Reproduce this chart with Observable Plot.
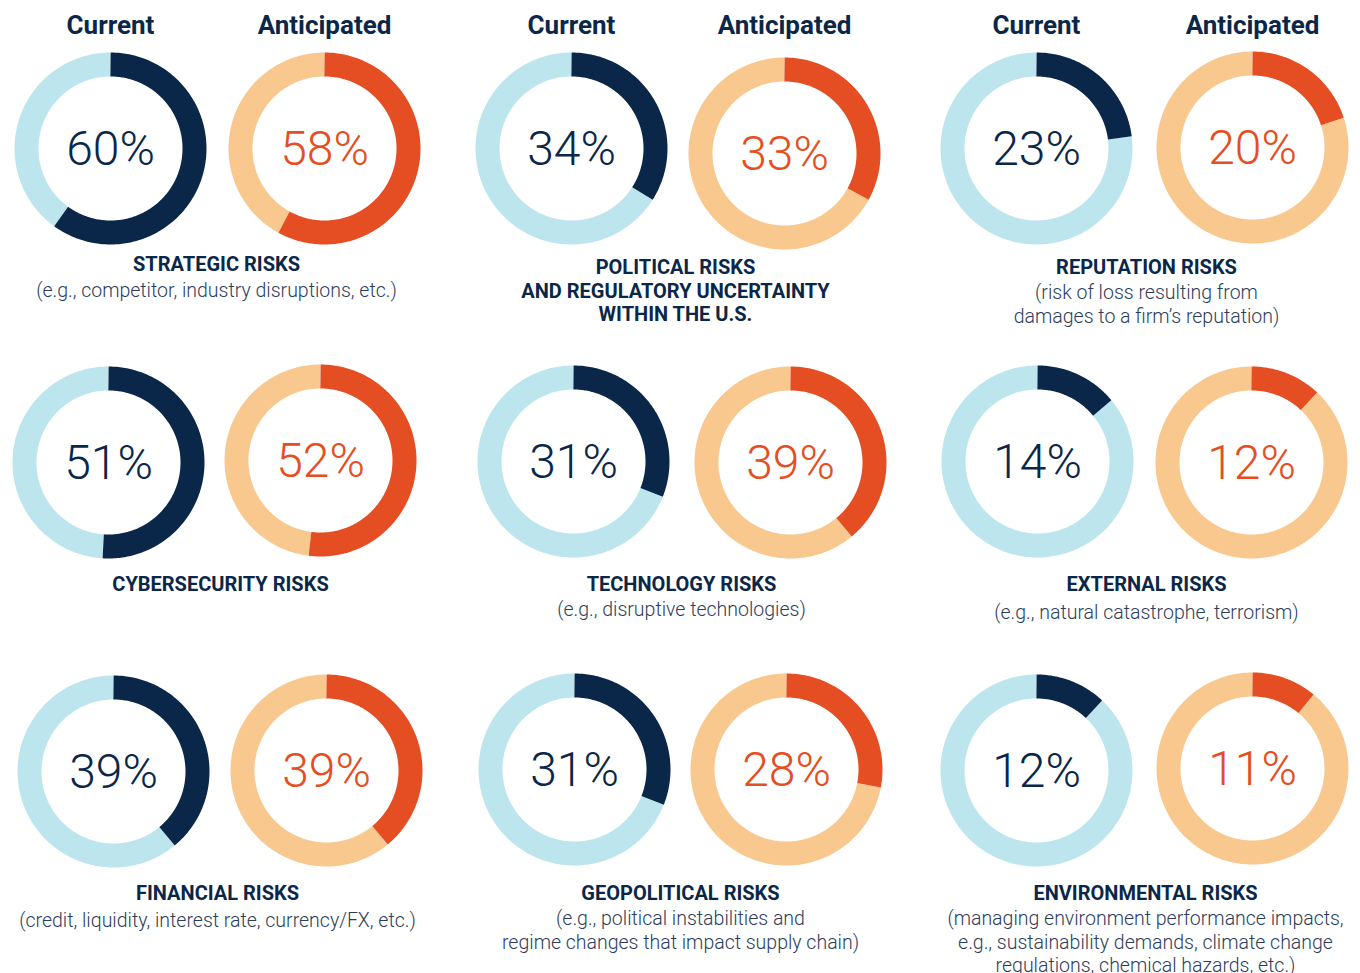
<!DOCTYPE html>
<html>
<head>
<meta charset="utf-8">
<script src="https://cdn.jsdelivr.net/npm/d3@7"></script>
<script src="https://cdn.jsdelivr.net/npm/@observablehq/plot@0.6"></script>
<style>
  html, body { margin: 0; padding: 0; background: #ffffff; }
  #chart svg { display: block; }
</style>
</head>
<body>
<div id="chart"></div>
<script>
// ---- Data ----
const seriesLabels = ["Current", "Anticipated"];
const categories = [
  "STRATEGIC RISKS",
  "POLITICAL RISKS\nAND REGULATORY UNCERTAINTY\nWITHIN THE U.S.",
  "REPUTATION RISKS",
  "CYBERSECURITY RISKS",
  "TECHNOLOGY RISKS",
  "EXTERNAL RISKS",
  "FINANCIAL RISKS",
  "GEOPOLITICAL RISKS",
  "ENVIRONMENTAL RISKS"
];
const descriptions = [
  "(e.g., competitor, industry disruptions, etc.)",
  "",
  "(risk of loss resulting from\ndamages to a firm’s reputation)",
  "",
  "(e.g., disruptive technologies)",
  "(e.g., natural catastrophe, terrorism)",
  "(credit, liquidity, interest rate, currency/FX, etc.)",
  "(e.g., political instabilities and\nregime changes that impact supply chain)",
  "(managing environment performance impacts,\ne.g., sustainability demands, climate change\nregulations, chemical hazards, etc.)"
];
const currentValues = [60, 34, 23, 51, 31, 14, 39, 31, 12];
const anticipatedValues = [58, 33, 20, 52, 39, 12, 39, 28, 11];

// ---- Layout (pixel positions of each donut and label block) ----
const currentCenters = [[110,148],[571,148],[1036,148],[108,462],[573,461],[1037,461],[113,771],[574,769],[1036,770]];
const anticipatedCenters = [[324,148],[784,153],[1252,147],[320,460],[790,462],[1251,462],[326,770],[786,769],[1252,768]];
const titleX = [216, 675, 1146, 220, 681, 1146, 217, 680, 1145];
const titleTop = [254, 257, 257, 574, 574, 574, 883, 883, 883];
const descTop = [279, 0, 281, 0, 598, 601, 909, 907, 907];

const R = 84, RING = 24;
const navy = "#0a2749", lightBlue = "#bde5ee", red = "#e44e22", peach = "#f8c88f";
const descColor = "#2c3d5b";

// ---- Build arc paths from the values ----
function arc(id, cx, cy, f0, f1) {
  const n = Math.max(2, Math.ceil((f1 - f0) * 360));
  const pts = [];
  for (let k = 0; k <= n; k++) {
    const t = (f0 + (f1 - f0) * k / n) * 2 * Math.PI;
    pts.push({id, x: cx + R * Math.sin(t), y: cy - R * Math.cos(t)});
  }
  return pts;
}
const curFill = [], curRest = [], antFill = [], antRest = [];
categories.forEach((c, i) => {
  const [cx, cy] = currentCenters[i];
  const [ax, ay] = anticipatedCenters[i];
  const v = currentValues[i] / 100, w = anticipatedValues[i] / 100;
  curRest.push(...arc("cr" + i, cx, cy, v, 1));
  curFill.push(...arc("cf" + i, cx, cy, 0, v));
  antRest.push(...arc("ar" + i, ax, ay, w, 1));
  antFill.push(...arc("af" + i, ax, ay, 0, w));
});

const pctRows = categories.flatMap((c, i) => [
  {x: currentCenters[i][0], y: currentCenters[i][1], text: currentValues[i] + "%", s: "cur"},
  {x: anticipatedCenters[i][0], y: anticipatedCenters[i][1], text: anticipatedValues[i] + "%", s: "ant"}
]);
const headerRows = [0, 1, 2].flatMap(i => [
  {x: currentCenters[i][0], text: seriesLabels[0]},
  {x: anticipatedCenters[i][0], text: seriesLabels[1]}
]);
const titleRows = categories.map((c, i) => ({x: titleX[i], y: titleTop[i], text: c}));
const descRows = descriptions.map((d, i) => ({x: titleX[i], y: descTop[i], text: d})).filter(d => d.text);

const lineOpts = {x: "x", y: "y", z: "id", strokeWidth: RING, strokeLinecap: "butt", strokeLinejoin: "round", curve: "linear"};
const font = "Roboto, 'Open Sans', sans-serif";

const chart = Plot.plot({
  width: 1360,
  height: 973,
  margin: 0,
  x: {domain: [0, 1360], range: [0, 1360], axis: null},
  y: {domain: [0, 973], range: [0, 973], axis: null},
  style: {background: "#ffffff", fontFamily: font},
  marks: [
    Plot.line(curRest, {...lineOpts, stroke: lightBlue}),
    Plot.line(curFill, {...lineOpts, stroke: navy}),
    Plot.line(antRest, {...lineOpts, stroke: peach}),
    Plot.line(antFill, {...lineOpts, stroke: red}),
    Plot.text(pctRows, {x: "x", y: "y", text: "text", dy: 1, fontSize: 48, fontWeight: 300,
      fill: d => d.s === "cur" ? navy : red, textAnchor: "middle", lineAnchor: "middle", fontFamily: font}),
    Plot.text(headerRows, {x: "x", y: () => 25, text: "text", fontSize: 26, fontWeight: 700,
      fill: navy, textAnchor: "middle", lineAnchor: "middle", fontFamily: font}),
    Plot.text(titleRows, {x: "x", y: "y", text: "text", fontSize: 20, fontWeight: 700,
      fill: navy, textAnchor: "middle", lineAnchor: "top", lineHeight: 1.17, fontFamily: font}),
    Plot.text(descRows, {x: "x", y: "y", text: "text", fontSize: 19.5, fontWeight: 300,
      fill: descColor, textAnchor: "middle", lineAnchor: "top", lineHeight: 1.23, fontFamily: font})
  ]
});
document.getElementById("chart").appendChild(chart);
</script>
</body>
</html>
